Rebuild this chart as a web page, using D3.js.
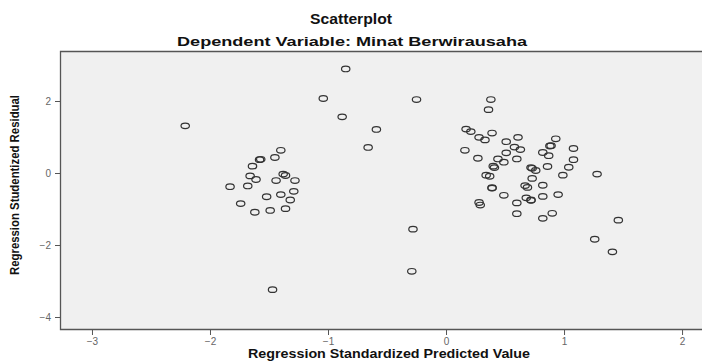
<!DOCTYPE html>
<html>
<head>
<meta charset="utf-8">
<script src="https://cdn.jsdelivr.net/npm/d3@7"></script>
<style>
  body { margin: 0; background: #fff; }
  svg { display: block; }
</style>
</head>
<body>
<div id="chart"></div>
<script>
// predicted value (x) and studentized residual (y)
const predicted = [
  -0.85, -1.04, -0.88, -0.59, -0.66, -2.21,
  -1.40, -1.45, -1.58, -1.57, -1.64, -1.66, -1.61, -1.38, -1.36, -1.44, -1.28,
  -1.83, -1.68, -1.52, -1.40, -1.29, -1.32, -1.74, -1.62, -1.49, -1.36, -1.47,
  -0.25, 0.38, 0.36, 0.17, 0.21, 0.39, 0.28, 0.33, 0.61, 0.93, 0.51, 0.58,
  0.63, 0.88, 0.89, 0.82, 0.87, 1.08, 1.08, 0.16, 0.27, 0.51, 0.60, 0.44,
  0.49, 0.40, 0.41, 0.72, 0.73, 0.76, 0.86, 1.04, 0.99, 1.28, 0.34, 0.37,
  0.73, 0.39, 0.39, 0.67, 0.69, 0.82, 0.49, 0.60, 0.68, 0.72, 0.72, 0.82,
  0.95, 0.28, 0.29, 0.60, 0.90, 0.82, 1.46, -0.28, 1.26, 1.41, -0.29
]
const residual = [
  2.89, 2.07, 1.56, 1.21, 0.71, 1.31,
  0.63, 0.43, 0.37, 0.38, 0.19, -0.08, -0.18, -0.03, -0.07, -0.21, -0.21,
  -0.38, -0.36, -0.66, -0.60, -0.51, -0.75, -0.85, -1.09, -1.04, -0.99, -3.24,
  2.04, 2.04, 1.76, 1.22, 1.15, 1.11, 0.99, 0.92, 0.99, 0.95, 0.87, 0.72,
  0.65, 0.75, 0.76, 0.57, 0.48, 0.68, 0.37, 0.63, 0.41, 0.56, 0.39, 0.39,
  0.30, 0.19, 0.15, 0.15, 0.13, 0.07, 0.18, 0.16, -0.06, -0.03, -0.06, -0.09,
  -0.15, -0.41, -0.42, -0.35, -0.40, -0.34, -0.62, -0.83, -0.69, -0.75, -0.76, -0.65,
  -0.60, -0.82, -0.89, -1.13, -1.12, -1.26, -1.31, -1.56, -1.84, -2.19, -2.73
]
const xTicks = [-3, -2, -1, 0, 1, 2]
const yTicks = [-4, -2, 0, 2]

const title = 'Scatterplot'
const subtitle = 'Dependent Variable: Minat Berwirausaha'
const xLabel = 'Regression Standardized Predicted Value'
const yLabel = 'Regression Studentized Residual'

const width = 702
const height = 363
const plot = { left: 60, top: 51, right: 702, bottom: 330 }

const svg = d3.select('#chart')
  .append('svg')
  .attr('width', width)
  .attr('height', height)

const x = d3.scaleLinear()
  .domain([-3.271, 2.169])
  .range([plot.left, plot.right])

const y = d3.scaleLinear()
  .domain([-4.361, 3.389])
  .range([plot.bottom, plot.top])

// plot background
svg.append('rect')
  .attr('x', plot.left)
  .attr('y', plot.top)
  .attr('width', plot.right - plot.left)
  .attr('height', plot.bottom - plot.top)
  .attr('fill', '#f0f0f0')

// frame: top, left and bottom edges
svg.append('path')
  .attr('d', `M${plot.right},${plot.top + 0.5}H${plot.left + 0.5}V${plot.bottom - 0.5}H${plot.right}`)
  .attr('fill', 'none')
  .attr('stroke', '#555')
  .attr('stroke-width', 1.3)

// axes
const xAxis = svg.append('g')
  .attr('transform', `translate(0,${plot.bottom})`)
  .call(d3.axisBottom(x).tickValues(xTicks).tickSize(5).tickPadding(3).tickFormat(d3.format('d')))

const yAxis = svg.append('g')
  .attr('transform', `translate(${plot.left},0)`)
  .call(d3.axisLeft(y).tickValues(yTicks).tickSize(5).tickPadding(4).tickFormat(d3.format('d')))

for (const ax of [xAxis, yAxis]) {
  ax.select('.domain').remove()
  ax.selectAll('line').attr('stroke', '#555')
  ax.selectAll('text')
    .attr('fill', '#666')
    .attr('font-family', 'Liberation Sans, Arial, sans-serif')
    .attr('font-size', 10)
}

// points
const points = predicted.map((p, i) => ({ p, r: residual[i] }))

svg.append('g')
  .selectAll('ellipse')
  .data(points)
  .join('ellipse')
  .attr('cx', d => x(d.p))
  .attr('cy', d => y(d.r))
  .attr('rx', 4.2)
  .attr('ry', 2.8)
  .attr('fill', 'none')
  .attr('stroke', '#333')
  .attr('stroke-width', 1.2)

// titles
const bold = { family: 'Liberation Sans, Arial, sans-serif', weight: 'bold' }

svg.append('text')
  .attr('x', 351)
  .attr('y', 24)
  .attr('text-anchor', 'middle')
  .attr('font-family', bold.family)
  .attr('font-weight', bold.weight)
  .attr('font-size', 14)
  .attr('textLength', 82)
  .attr('lengthAdjust', 'spacingAndGlyphs')
  .attr('fill', '#111')
  .text(title)

svg.append('text')
  .attr('x', 352)
  .attr('y', 46)
  .attr('text-anchor', 'middle')
  .attr('font-family', bold.family)
  .attr('font-weight', bold.weight)
  .attr('font-size', 13)
  .attr('textLength', 350)
  .attr('lengthAdjust', 'spacingAndGlyphs')
  .attr('fill', '#111')
  .text(subtitle)

svg.append('text')
  .attr('x', 389)
  .attr('y', 358)
  .attr('text-anchor', 'middle')
  .attr('font-family', bold.family)
  .attr('font-weight', bold.weight)
  .attr('font-size', 13)
  .attr('textLength', 282)
  .attr('lengthAdjust', 'spacingAndGlyphs')
  .attr('fill', '#111')
  .text(xLabel)

svg.append('text')
  .attr('transform', 'translate(19,185) rotate(-90)')
  .attr('text-anchor', 'middle')
  .attr('font-family', bold.family)
  .attr('font-weight', bold.weight)
  .attr('font-size', 12)
  .attr('textLength', 180)
  .attr('lengthAdjust', 'spacingAndGlyphs')
  .attr('fill', '#111')
  .text(yLabel)
</script>
</body>
</html>
